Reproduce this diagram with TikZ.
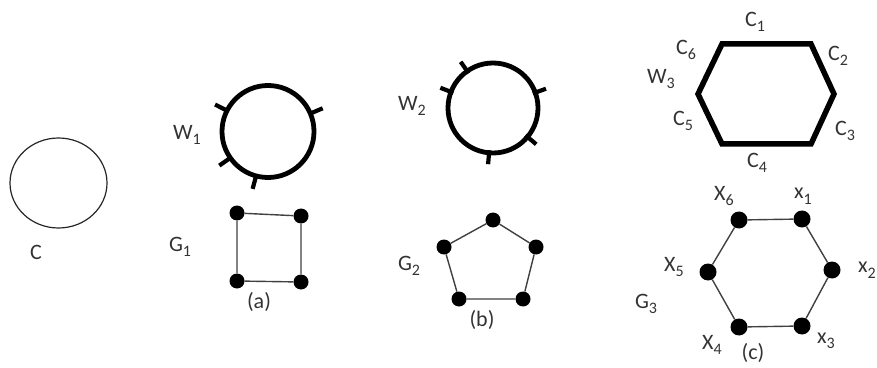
\documentclass[tikz,border=0pt]{standalone}
\usepackage{fontspec}
\setmainfont{Carlito}
\usetikzlibrary{shapes.geometric}
\begin{document}
\newcommand\sbs[1]{\raisebox{-0.25em}{\fontsize{16}{16}\selectfont #1}}
\begin{tikzpicture}[x=1pt,y=1pt,
  lbl/.style={font=\fontsize{22}{22}\selectfont, inner sep=0pt, text=black!80},
  vtx/.style={circle, fill=black, inner sep=0pt, minimum size=15pt},
  vtxb/.style={circle, fill=black, inner sep=0pt, minimum size=17pt},
  thin edge/.style={draw=black!75, line width=1.4pt},
  ring/.style={circle, draw=black, line width=4.8pt, inner sep=0pt},
  tick/.style={line width=4.2pt},
  hexw/.style={line width=5.5pt, line join=miter}]
\useasboundingbox (0,0) rectangle (877,367);
% C
\node[ellipse, draw=black!85, line width=1.2pt, minimum width=97pt, minimum height=90pt, inner sep=0pt] (c) at (58.5,184) {};
\node[lbl] (cl) at (36,115) {C};
% W1
\node[ring, minimum size=92pt] (w1) at (268,235.5) {};
\node[lbl] (w1l) at (187,232) {W\sbs{1}};
\foreach \a in {153,23,215,255}{
  \draw[tick] ([shift={(\a:-4)}]w1.\a) -- ([shift={(\a:11)}]w1.\a);
}
% G1
\node[vtx] (a1) at (237,154) {};
\node[vtx] (a2) at (301,151) {};
\node[vtx] (a3) at (301,85) {};
\node[vtx] (a4) at (237,86) {};
\draw[thin edge] (a1) -- (a2) -- (a3) -- (a4) -- (a1);
\node[lbl] (g1l) at (180,120) {G\sbs{1}};
\node[lbl] (la) at (259,65) {(a)};
% W2
\node[ring, minimum size=90pt] (w2) at (493,259) {};
\node[lbl] (w2l) at (412,261) {W\sbs{2}};
\foreach \a in {125,159,20,-40,265}{
  \draw[tick] ([shift={(\a:-5)}]w2.\a) -- ([shift={(\a:9)}]w2.\a);
}
% G2
\node[vtx] (b1) at (493,147) {};
\node[vtx] (b2) at (536,120) {};
\node[vtx] (b3) at (523,68) {};
\node[vtx] (b4) at (459,68) {};
\node[vtx] (b5) at (444,120) {};
\draw[thin edge] (b1) -- (b2) -- (b3) -- (b4) -- (b5) -- (b1);
\node[lbl] (g2l) at (409,101) {G\sbs{2}};
\node[lbl] (lb) at (482,47) {(b)};
% W3
\coordinate (h1) at (722,323);
\coordinate (h2) at (811,323);
\coordinate (h3) at (834,273);
\coordinate (h4) at (811,223);
\coordinate (h5) at (722,223);
\coordinate (h6) at (698,273);
\draw[hexw] (h1) -- (h2) -- (h3) -- (h4) -- (h5) -- (h6) -- cycle;
\node[lbl] (c1) at (755,345) {C\sbs{1}};
\node[lbl] (c2) at (838,311) {C\sbs{2}};
\node[lbl] (c3) at (845,236) {C\sbs{3}};
\node[lbl] (c4) at (757,204) {C\sbs{4}};
\node[lbl] (c5) at (683,246) {C\sbs{5}};
\node[lbl] (c6) at (686,317) {C\sbs{6}};
\node[lbl] (w3l) at (661,288) {W\sbs{3}};
% G3
\node[vtxb] (x6) at (739,147) {};
\node[vtxb] (x1) at (802,148) {};
\node[vtxb] (x2) at (832,97) {};
\node[vtxb] (x3) at (802,41) {};
\node[vtxb] (x4) at (739,40) {};
\node[vtxb] (x5) at (708,95) {};
\draw[thin edge] (x6) -- (x1) -- (x2) -- (x3) -- (x4) -- (x5) -- (x6);
\node[lbl] (x6l) at (724,171) {X\sbs{6}};
\node[lbl] (x1l) at (803,171) {x\sbs{1}};
\node[lbl, anchor=east] (x2l) at (876,97) {x\sbs{2}};
\node[lbl] (x5l) at (674,100) {X\sbs{5}};
\node[lbl] (g3l) at (646,63) {G\sbs{3}};
\node[lbl] (x4l) at (712,22) {X\sbs{4}};
\node[lbl] (x3l) at (826,26) {x\sbs{3}};
\node[lbl] (lc) at (753,14) {(c)};
\end{tikzpicture}
\end{document}
